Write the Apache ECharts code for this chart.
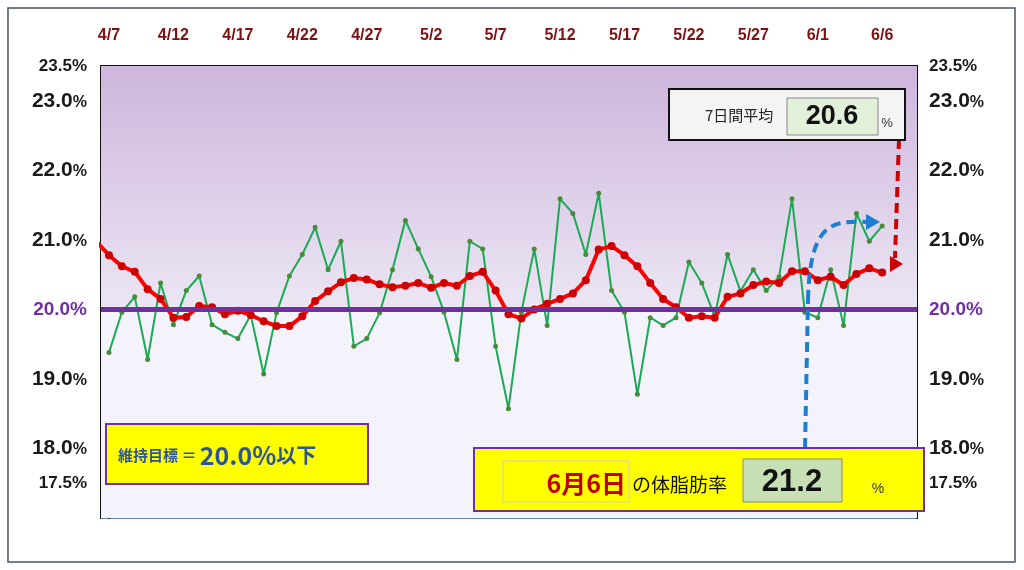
<!DOCTYPE html>
<html><head><meta charset="utf-8">
<script src="https://cdn.jsdelivr.net/npm/echarts@6/dist/echarts.min.js"></script>
<style>html,body{margin:0;padding:0;background:#fff}#c{width:1024px;height:570px}</style>
</head><body><div id="c"></div>
<script>
const dateLabels = ['4/7','4/12','4/17','4/22','4/27','5/2','5/7','5/12','5/17','5/22','5/27','6/1','6/6'];
const daily = [19.38,19.96,20.18,19.28,20.38,19.78,20.27,20.48,19.78,19.67,19.58,19.92,19.07,19.95,20.48,20.79,21.18,20.57,20.98,19.47,
  19.58,19.95,20.57,21.28,20.87,20.47,19.96,19.28,20.98,20.87,19.47,18.57,19.96,20.87,19.77,21.59,21.38,20.79,21.67,20.27,
  19.96,18.78,19.88,19.77,19.88,20.68,20.38,19.9,20.79,20.26,20.57,20.27,20.47,21.59,19.96,19.88,20.57,19.77,21.38,20.98,21.2];
const avg7 = [20.78,20.62,20.54,20.29,20.15,19.88,19.89,20.05,20.03,19.93,19.98,19.92,19.83,19.76,19.76,19.90,20.12,20.26,20.39,20.45,
  20.43,20.36,20.32,20.34,20.38,20.31,20.38,20.34,20.48,20.54,20.27,19.93,19.87,20.00,20.08,20.15,20.23,20.42,20.86,20.91,
  20.78,20.62,20.38,20.15,20.03,19.88,19.90,19.88,20.18,20.23,20.35,20.40,20.38,20.55,20.55,20.42,20.47,20.35,20.51,20.59,20.53];
const prevAvg = 20.98;
const target = 20.0;
const latestDate = '6月6日', latestValue = '21.2', avgValue = '20.6';
const yLabelValues = [17.5,18,19,20,21,22,23,23.5];

const chart = echarts.init(document.getElementById('c'));
const font = 'Liberation Sans, DejaVu Sans, sans-serif';
const cjk = '"Noto Sans CJK JP", sans-serif';
function yFmt(v){
  const k = Math.round(v*10);
  if (!yLabelValues.some(t=>Math.round(t*10)===k)) return '';
  const s = (k/10).toFixed(1);
  if (k===200) return '{p|'+s+'%}';
  if (k===175 || k===235) return '{s|'+s+'%}';
  return '{b|'+s+'}{pc|%}';
}
const rich = {
  b:{fontSize:21,fontWeight:'bold',color:'#1a1a1a',fontFamily:font},
  pc:{fontSize:16,fontWeight:'bold',color:'#1a1a1a',fontFamily:font,padding:[3,0,0,0]},
  s:{fontSize:17,fontWeight:'bold',color:'#1a1a1a',fontFamily:font},
  p:{fontSize:19,fontWeight:'bold',color:'#7030a0',fontFamily:font}
};
function yAx(pos){
  return {type:'value',position:pos,min:17.0,max:23.5,interval:0.1,
    axisLine:{show:true,lineStyle:{color:'#111',width:2}},axisTick:{show:false},
    axisLabel:{show:true,formatter:yFmt,rich:rich,margin:pos==='left'?14:12,showMinLabel:true,showMaxLabel:true},
    splitLine:{show:pos==='left',lineStyle:{color:'#5b8cc8',width:1}}};
}
const dailyData = daily.map((v,i)=>[i,v]);
const avgData = [[-1,prevAvg]].concat(avg7.map((v,i)=>[i,v]));
chart.setOption({
  animation:false,
  grid:{left:101,right:107,top:66,bottom:52,show:true,borderColor:'#111',borderWidth:2},
  xAxis:{type:'value',position:'top',min:-0.62,max:62.7,
    axisLine:{show:false},axisTick:{show:false},splitLine:{show:false},
    axisLabel:{customValues:[0,5,10,15,20,25,30,35,40,45,50,55,60],
      formatter:v=>dateLabels[Math.round(v/5)]||'',color:'#7f1010',fontWeight:'bold',fontSize:16,fontFamily:font,margin:22}},
  yAxis:[yAx('left'),yAx('right')],
  series:[
    {type:'line',data:[],markArea:{silent:true,data:[
      [{yAxis:target,itemStyle:{color:new echarts.graphic.LinearGradient(0,0,0,1,[{offset:0,color:'#cdb5dd'},{offset:1,color:'#ece6f3'}])}},{yAxis:23.5}],
      [{yAxis:17.0,itemStyle:{color:'#f4f2fa'}},{yAxis:target}]]},z:0},
    {type:'line',data:dailyData,symbol:'circle',symbolSize:5,lineStyle:{color:'#1aaa55',width:2},itemStyle:{color:'#4a8a3a'},z:3,
      markLine:{silent:true,symbol:'none',label:{show:false},lineStyle:{color:'#7030a0',width:5,type:'solid'},data:[{yAxis:target}]}},
    {type:'line',data:avgData,symbol:'circle',symbolSize:8,lineStyle:{color:'#ff0000',width:4},itemStyle:{color:'#cc0000'},z:4}
  ],
  graphic:[
    {type:'rect',shape:{x:8,y:8,width:1007,height:554},style:{fill:'none',stroke:'#44546a',lineWidth:1.5},z:0},
    {type:'line',shape:{x1:805,y1:448,x2:808,y2:300},style:{stroke:'#1f7ed0',lineWidth:4,lineDash:[10,6]},z:20},
    {type:'bezierCurve',shape:{x1:808,y1:300,cpx1:810,cpy1:225,cpx2:830,cpy2:220,x2:866,y2:222},style:{fill:'none',stroke:'#1f7ed0',lineWidth:4,lineDash:[10,6]},z:20},
    {type:'polygon',shape:{points:[[866,214],[880,222],[866,230]]},style:{fill:'#1f7ed0'},z:20},
    {type:'line',shape:{x1:899,y1:139,x2:895,y2:258},style:{stroke:'#cc0000',lineWidth:4,lineDash:[10,6]},z:20},
    {type:'polygon',shape:{points:[[890,256],[903,264],[890,272]]},style:{fill:'#cc0000'},z:20},
    {type:'rect',shape:{x:669,y:89,width:236,height:51},style:{fill:'#f4f4f4',stroke:'#111',lineWidth:2},z:30},
    {type:'text',x:705,y:115,style:{text:'7日間平均',font:'15px '+cjk,fill:'#222',verticalAlign:'middle'},z:31},
    {type:'rect',shape:{x:787,y:98,width:91,height:37},style:{fill:'#e2efd9',stroke:'#888',lineWidth:1},z:31},
    {type:'text',x:832,y:117,style:{text:avgValue,font:'bold 27px "Liberation Sans Narrow", '+font,fill:'#111',align:'center',verticalAlign:'middle'},z:32},
    {type:'text',x:887,y:123,style:{text:'%',font:'13px '+font,fill:'#333',align:'center',verticalAlign:'middle'},z:32},
    {type:'rect',shape:{x:106,y:424,width:262,height:60},style:{fill:'#ffff00',stroke:'#7030a0',lineWidth:2},z:30},
    {type:'text',x:118,y:455,style:{rich:{a:{font:'bold 15px '+cjk,fill:'#2e5597'},b:{font:'bold 25px '+cjk,fill:'#2e5597'},c:{font:'bold 20px '+cjk,fill:'#2e5597'}},text:'{a|維持目標 ＝ }{b|20.0%}{c|以下}',verticalAlign:'middle'},z:31},
    {type:'rect',shape:{x:474,y:448,width:450,height:63},style:{fill:'#ffff00',stroke:'#7030a0',lineWidth:2},z:30},
    {type:'rect',shape:{x:503,y:461,width:126,height:41},style:{fill:'#ffff00',stroke:'#ccc',lineWidth:1},z:31},
    {type:'text',x:626,y:483,style:{text:latestDate,font:'bold 25px "Liberation Sans Narrow", '+cjk,fill:'#c00000',align:'right',verticalAlign:'middle'},z:32},
    {type:'text',x:632,y:485,style:{text:'の体脂肪率',font:'19px '+cjk,fill:'#111',verticalAlign:'middle'},z:32},
    {type:'rect',shape:{x:743,y:459,width:99,height:43},style:{fill:'#c6dfb4',stroke:'#888',lineWidth:1},z:31},
    {type:'text',x:792,y:482,style:{text:latestValue,font:'bold 31px "Liberation Sans Narrow", '+font,fill:'#111',align:'center',verticalAlign:'middle'},z:32},
    {type:'text',x:878,y:489,style:{text:'%',font:'14px '+font,fill:'#333',align:'center',verticalAlign:'middle'},z:32}
  ]
});
</script></body></html>
